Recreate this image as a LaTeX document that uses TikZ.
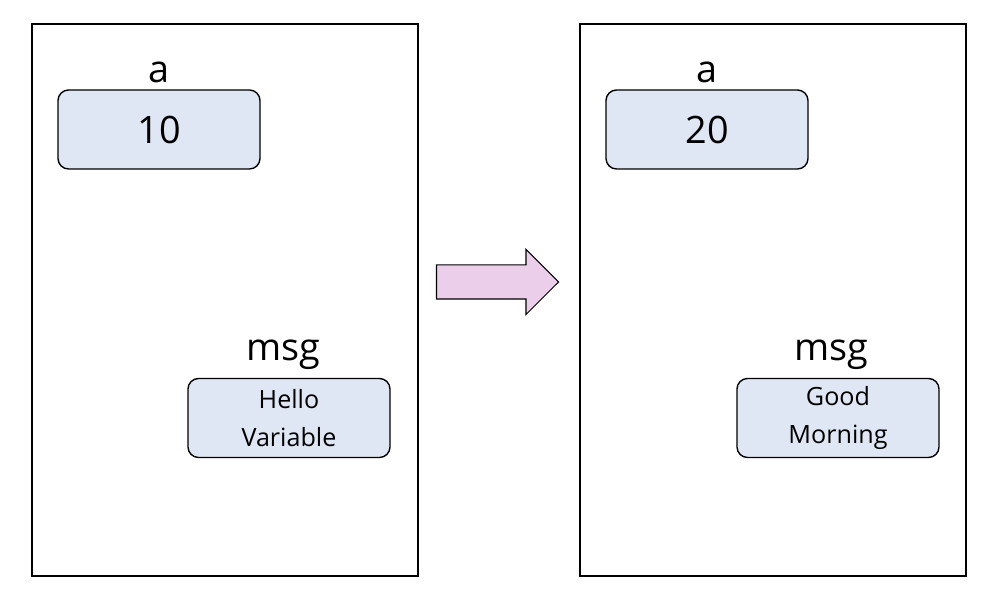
\documentclass[tikz,border=0pt]{standalone}
\usepackage{fontspec}
\setmainfont{Open Sans}
\usetikzlibrary{
    positioning,
    shapes.arrows,
}
\definecolor{valfill}{HTML}{DEE7F3}
\definecolor{arrowfill}{HTML}{EBCFEA}
\tikzset{
    % Memory frame
    frame/.style={rectangle, draw, line width=1pt, minimum width=7.72cm,
                  minimum height=11.04cm},
    % Value boxes
    valbox/.style={rectangle, draw, rounded corners=6pt, line width=0.8pt,
                   fill=valfill, minimum width=4.04cm, minimum height=1.58cm,
                   align=center},
    big val/.style={valbox, font=\fontsize{21.5}{24}\selectfont},
    text val/.style={valbox, font=\fontsize{14.3}{21.5}\selectfont},
    % Variable names
    varname/.style={inner sep=0pt, font=\fontsize{21.5}{24}\selectfont},
    % Transition arrow
    step arrow/.style={single arrow, draw, line width=0.6pt, fill=arrowfill,
                       minimum height=2.44cm, inner xsep=0pt, inner ysep=0.33cm,
                       single arrow head extend=0.31cm},
}

\begin{document}
\begin{tikzpicture}
    \useasboundingbox (0,0) rectangle (19.96,12.16);

    % Before
    \node[frame] (before) at (4.5,6.16) {};
    \node[big val] (a1) at (3.18,9.57) {10};
    \node[varname, above=0.12cm of a1] {a};
    \node[text val] (m1) at (5.78,3.8) {Hello\\Variable};
    \node[varname, above=0.16cm of m1, xshift=-0.12cm] {msg};

    % After
    \node[frame] (after) at (15.46,6.16) {};
    \node[big val] (a2) at (14.14,9.57) {20};
    \node[varname, above=0.12cm of a2] {a};
    \node[text val] (m2) at (16.76,3.8) {Good\\Morning};
    \node[varname, above=0.16cm of m2, xshift=-0.14cm] {msg};

    % Change
    \node[step arrow] (chg) at (9.78,6.52) {};
\end{tikzpicture}
\end{document}
